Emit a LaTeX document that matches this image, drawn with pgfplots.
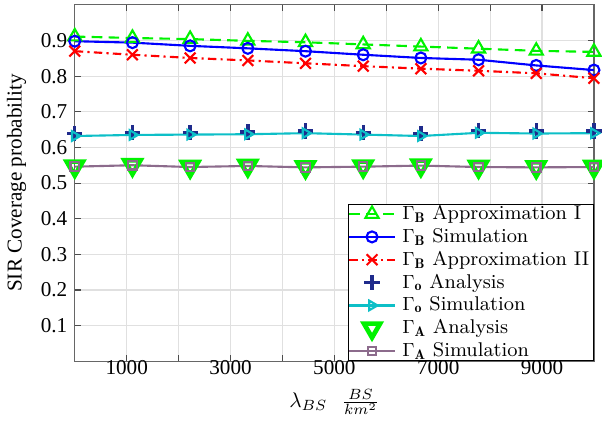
\documentclass[border=0pt]{standalone}
\usepackage{pgfplots}
\pgfplotsset{compat=1.18}
\usepackage{fontspec}
\newfontfamily\timesf{Liberation Serif}
\definecolor{cGreen}{rgb}{0,0.95,0}
\definecolor{cBlue}{rgb}{0,0,1}
\definecolor{cRed}{rgb}{1,0,0}
\definecolor{cNavy}{rgb}{0.12,0.17,0.55}
\definecolor{cCyan}{rgb}{0.05,0.75,0.78}
\definecolor{cPurple}{rgb}{0.55,0.42,0.55}
\begin{document}
\begin{tikzpicture}
\begin{axis}[
  scale only axis,
  width=245.3pt, height=168.4pt,
  xmin=0, xmax=10000, ymin=0, ymax=1,
  xtick={1000,2000,3000,4000,5000,6000,7000,8000,9000},
  xticklabels={1000,,3000,,5000,,7000,,9000},
  ytick={0.1,0.2,0.3,0.4,0.5,0.6,0.7,0.8,0.9},
  yticklabels={0.1,0.2,0.3,0.4,0.5,0.6,0.7,0.8,0.9},
  scaled x ticks=false,
  /pgf/number format/assume math mode=true,
  tick label style={font=\timesf},
  xticklabel style={yshift=4pt},
  grid=major,
  grid style={draw=black!12, line width=0.5pt},
  tick align=inside,
  major tick length=3pt,
  axis line style={draw=black!60, line width=0.6pt},
  tick style={draw=black!70, line width=0.5pt},
  ylabel={SIR Coverage probability},
  ylabel style={font=\timesf},
  xlabel={$\lambda_{BS}\ \ \frac{BS}{km^2}$},
  xlabel style={yshift=0pt, name=xl},
  legend style={at={(1,0)}, anchor=south east, font=\fontsize{9.4}{11}\selectfont, draw=black, line width=0.5pt, fill=white, inner sep=0pt, row sep=1.6pt, column sep=1pt, nodes={inner ysep=0.5pt}},
  legend cell align=left,
  legend image code/.code={\draw[mark repeat=2,mark phase=2,#1] plot coordinates {(0cm,0cm) (0.38cm,0cm) (0.76cm,0cm)};},
]
\addplot[cGreen, dashed, dash pattern=on 5pt off 3pt, line width=1pt, mark=triangle, mark size=3.6pt, mark options={solid, line width=1pt}] coordinates {
(0,0.911) (1111.1,0.907) (2222.2,0.904) (3333.3,0.899) (4444.4,0.895) (5555.6,0.889) (6666.7,0.883) (7777.8,0.877) (8888.9,0.871) (10000,0.868)};
\addlegendentry{$\Gamma_{\mathbf{B}}$ Approximation I}
\addplot[cBlue, solid, line width=1pt, mark=o, mark size=2.6pt, mark options={solid, line width=1pt}] coordinates {
(0,0.898) (1111.1,0.894) (2222.2,0.885) (3333.3,0.878) (4444.4,0.870) (5555.6,0.860) (6666.7,0.851) (7777.8,0.846) (8888.9,0.830) (10000,0.817)};
\addlegendentry{$\Gamma_{\mathbf{B}}$ Simulation}
\addplot[cRed, dash pattern=on 4pt off 2pt on 1pt off 2pt, line width=1pt, mark=x, mark size=3.6pt, mark options={solid, line width=1pt}] coordinates {
(0,0.870) (1111.1,0.860) (2222.2,0.851) (3333.3,0.844) (4444.4,0.836) (5555.6,0.828) (6666.7,0.821) (7777.8,0.815) (8888.9,0.808) (10000,0.794)};
\addlegendentry{$\Gamma_{\mathbf{B}}$ Approximation II}
\addplot[cNavy, only marks, mark=+, mark size=3.6pt, mark options={line width=1.6pt}] coordinates {
(0,0.639) (1111.1,0.642) (2222.2,0.642) (3333.3,0.643) (4444.4,0.646) (5555.6,0.642) (6666.7,0.639) (7777.8,0.648) (8888.9,0.646) (10000,0.646)};
\addlegendentry{$\Gamma_{\mathbf{o}}$ Analysis}
\addplot[cCyan, solid, line width=1pt, mark=triangle, mark size=2.6pt, mark options={solid, rotate=-90, line width=1pt}] coordinates {
(0,0.632) (1111.1,0.635) (2222.2,0.636) (3333.3,0.637) (4444.4,0.640) (5555.6,0.636) (6666.7,0.632) (7777.8,0.641) (8888.9,0.639) (10000,0.640)};
\addlegendentry{$\Gamma_{\mathbf{o}}$ Simulation}
\addplot[cGreen, only marks, mark=triangle, mark size=4.4pt, mark options={rotate=180, line width=2.2pt, fill=white}] coordinates {
(0,0.547) (1111.1,0.551) (2222.2,0.546) (3333.3,0.549) (4444.4,0.545) (5555.6,0.547) (6666.7,0.550) (7777.8,0.546) (8888.9,0.545) (10000,0.546)};
\addlegendentry{$\Gamma_{\mathbf{A}}$ Analysis}
\addplot[cPurple, solid, line width=1pt, mark=square, mark size=2pt, mark options={solid, line width=1pt}] coordinates {
(0,0.546) (1111.1,0.550) (2222.2,0.545) (3333.3,0.548) (4444.4,0.544) (5555.6,0.546) (6666.7,0.549) (7777.8,0.545) (8888.9,0.544) (10000,0.545)};
\addlegendentry{$\Gamma_{\mathbf{A}}$ Simulation}
\end{axis}
\path (current axis.north west) ++(0,2.3pt);
\path (xl.south) ++(0,-2.5pt);
\end{tikzpicture}
\end{document}
